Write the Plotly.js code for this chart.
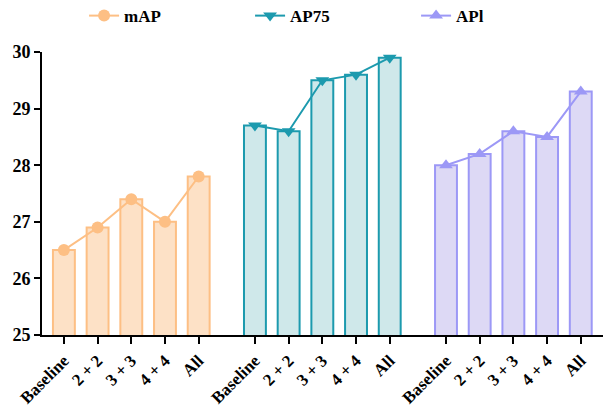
<!DOCTYPE html>
<html><head><meta charset="utf-8">
<script src="https://cdn.plot.ly/plotly-3.0.1.min.js"></script>
<style>body{margin:0;background:#fff}#c{width:605px;height:412px}</style>
</head><body><div id="c"></div>
<script>
const categories = ["Baseline", "2 + 2", "3 + 3", "4 + 4", "All"];
const seriesNames = ["mAP", "AP75", "APl"];
const mAP = [26.5, 26.9, 27.4, 27.0, 27.8];
const AP75 = [28.7, 28.6, 29.5, 29.6, 29.9];
const APl = [28.0, 28.2, 28.6, 28.5, 29.3];
const yTicks = [25, 26, 27, 28, 29, 30];

const values = [mAP, AP75, APl];
const lineColors = ["#FDBF84", "#1C9AAE", "#9C98F6"];
const fillColors = ["#FDE1C6", "#CFE8EA", "#DDD9F5"];
const symbols = ["circle", "triangle-down", "triangle-up"];
const groupGap = 5.67;
const fam = "'Liberation Serif', 'Times New Roman', serif";
const font = {family: fam, size: 17, color: "#000", weight: "bold"};

const traces = [];
const tickvals = [], ticktext = [];
values.forEach((vals, g) => {
  const xs = categories.map((c, i) => g * groupGap + i);
  xs.forEach((x, i) => { tickvals.push(x); ticktext.push(categories[i]); });
  traces.push({type: "bar", x: xs, y: vals, width: 0.65, showlegend: false, hoverinfo: "skip",
    marker: {color: fillColors[g], line: {color: lineColors[g], width: 2}}});
});
values.forEach((vals, g) => {
  const xs = categories.map((c, i) => g * groupGap + i);
  traces.push({type: "scatter", mode: "lines+markers", x: xs, y: vals, name: seriesNames[g],
    line: {color: lineColors[g], width: 2}, marker: {symbol: symbols[g], size: 12, color: lineColors[g]}});
});

const layout = {
  width: 605, height: 412,
  margin: {l: 42, r: 2, t: 52, b: 77, autoexpand: false},
  paper_bgcolor: "#fff", plot_bgcolor: "#fff",
  font: font,
  showlegend: true,
  legend: {orientation: "h", x: 0.075, xanchor: "left", y: 1.127, yanchor: "middle",
    entrywidth: 121, entrywidthmode: "pixels", font: font, bgcolor: "rgba(0,0,0,0)"},
  xaxis: {range: [-0.65, 16.0], tickmode: "array", tickvals: tickvals, ticktext: ticktext,
    tickangle: -45, showgrid: false, zeroline: false, showline: true, linecolor: "#000", linewidth: 2,
    ticks: "outside", ticklen: 7, tickwidth: 2, tickcolor: "#000", tickfont: font, fixedrange: true},
  yaxis: {range: [25, 30], tickvals: yTicks, showgrid: false, zeroline: false, showline: true,
    linecolor: "#000", linewidth: 2, ticks: "outside", ticklen: 6, tickwidth: 2, tickcolor: "#000",
    tickfont: {family: fam, size: 18, color: "#000", weight: "bold"}, fixedrange: true},
  bargap: 0
};
Plotly.newPlot("c", traces, layout, {displayModeBar: false, staticPlot: true});
</script></body></html>
